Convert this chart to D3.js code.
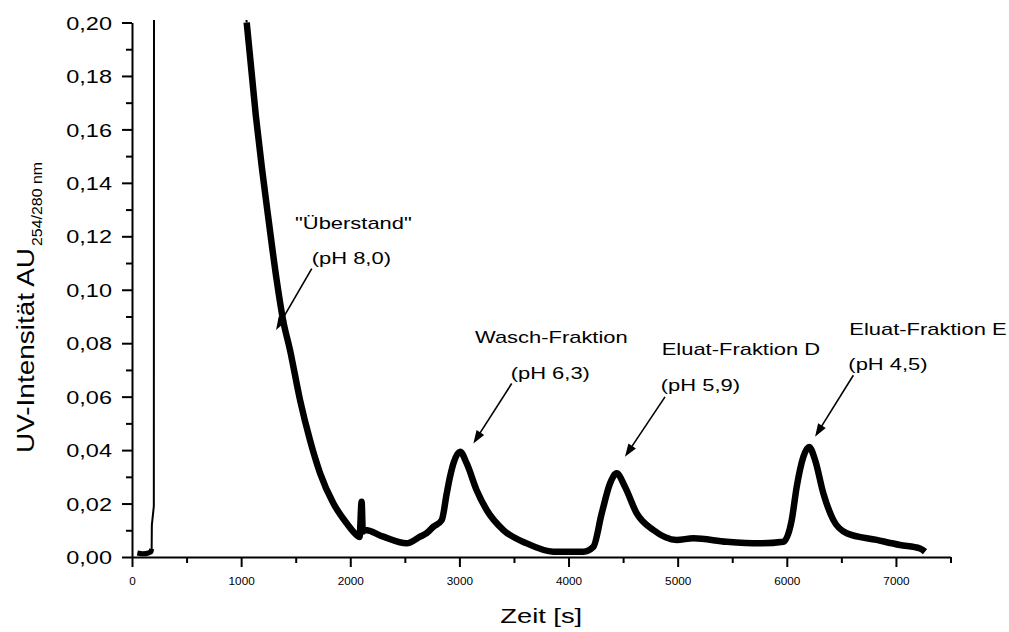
<!DOCTYPE html>
<html><head><meta charset="utf-8">
<script src="https://cdnjs.cloudflare.com/ajax/libs/d3/7.8.5/d3.min.js"></script>
<style>
body{margin:0;background:#fff}
svg{display:block}
text{font-family:"Liberation Sans",Arial,sans-serif;fill:#000}
</style>
</head><body>
<svg id="c" width="1009" height="632"></svg>
<script>
// ---- data ----
const times = [49,100,150,175,180,182,200,202,1000,1051,1135,1192,1252,1326,1385,1448,1540,1631,
  1723,1845,1967,2059,2085,2104,2115,2135,2303,2517,2639,2700,2761,2838,2884,2914,2945,3006,3067,3158,
  3250,3403,3617,3861,4136,4227,4304,4380,4441,4517,4625,4777,4991,5143,5449,5755,5968,6045,6091,6152,
  6204,6259,6335,6427,6549,6824,7037,7221,7266];
const values = [0.0015,0.0012,0.0015,0.002,0.003,0.012,0.019,0.25,0.225,0.2,0.165,0.145,0.126,0.1035,0.0885,0.0774,0.0587,0.0437,
  0.0314,0.0201,0.0126,0.0082,0.0075,0.0207,0.0095,0.0101,0.0076,0.0051,0.0076,0.0089,0.0113,0.0138,0.0238,0.030,0.035,0.0394,0.035,0.025,
  0.0176,0.0101,0.0051,0.002,0.002,0.0038,0.0163,0.0275,0.0313,0.0263,0.0163,0.0101,0.0064,0.007,0.0057,0.0051,0.0057,0.0138,0.0263,0.0375,
  0.0412,0.0363,0.0238,0.0138,0.0089,0.0064,0.0045,0.0032,0.002];

const xTicks = [0,1000,2000,3000,4000,5000,6000,7000];
const xTickLabels = ["0","1000","2000","3000","4000","5000","6000","7000"];
const xMinorTicks = [500,1500,2500,3500,4500,5500,6500,7500];
const yTicks = [0,0.02,0.04,0.06,0.08,0.10,0.12,0.14,0.16,0.18,0.20];
const yTickLabels = ["0,00","0,02","0,04","0,06","0,08","0,10","0,12","0,14","0,16","0,18","0,20"];
const yMinorTicks = [0.01,0.03,0.05,0.07,0.09,0.11,0.13,0.15,0.17,0.19];

const xTitle = "Zeit [s]";
const yTitle = "UV-Intensität AU";
const yTitleSub = "254/280 nm";

// annotations: label lines, arrow tail/tip in data units
const annLine1 = ['"Überstand"','Wasch-Fraktion','Eluat-Fraktion D','Eluat-Fraktion E'];
const annLine2 = ['(pH 8,0)','(pH 6,3)','(pH 5,9)','(pH 4,5)'];
const annLine1T = [1494,3143,4854,6573];
const annLine1V = [0.1226,0.0799,0.0755,0.0830];
const annLine2T = [1647,3470,4845,6564];
const annLine2V = [0.1098,0.0665,0.0622,0.0699];
const arrowTailT = [1647,3479,4884,6610];
const arrowTailV = [0.1079,0.0649,0.0599,0.0680];
const arrowTipT = [1320,3128,4517,6259];
const arrowTipV = [0.0849,0.0425,0.0375,0.0450];

// ---- drawing ----
const svg = d3.select("#c");
const x = d3.scaleLinear().domain([0,7500]).range([132,950.5]);
const y = d3.scaleLinear().domain([0,0.2]).range([557,22.5]);

function stretch(sel, k){
  sel.each(function(){
    const L = this.getComputedTextLength();
    this.setAttribute("textLength", L*k);
    this.setAttribute("lengthAdjust","spacingAndGlyphs");
  });
}

svg.append("defs").append("clipPath").attr("id","clip")
  .append("rect").attr("x",132).attr("y",20).attr("width",820).attr("height",537);

const pts = times.map((t,i)=>({t, v: values[i]}));
const plot = svg.append("g").attr("clip-path","url(#clip)");
plot.append("path").datum(pts.filter(d=>d.t>=180 && d.t<=1051))
  .attr("d", d3.line().x(d=>x(d.t)).y(d=>y(d.v)))
  .attr("fill","none").attr("stroke","#000").attr("stroke-width",2);
const thick = d3.line().x(d=>x(d.t)).y(d=>y(d.v)).curve(d3.curveMonotoneX);
plot.append("path").datum(pts.filter(d=>d.t<=180))
  .attr("d", thick).attr("fill","none").attr("stroke","#000").attr("stroke-width",5)
  .attr("stroke-linejoin","round");
plot.append("path").datum(pts.filter(d=>d.t>=1051))
  .attr("d", thick).attr("fill","none").attr("stroke","#000").attr("stroke-width",6.5)
  .attr("stroke-linejoin","round");

// axes
const gx = svg.append("g").attr("transform",`translate(0,${y(0)})`)
  .call(d3.axisBottom(x).tickValues(xTicks).tickSize(10).tickSizeOuter(0)
    .tickFormat((d,i)=>xTickLabels[i]));
const gxm = svg.append("g").attr("transform",`translate(0,${y(0)})`)
  .call(d3.axisBottom(x).tickValues(xMinorTicks).tickSize(6).tickSizeOuter(0).tickFormat(""));
gxm.select(".domain").remove();
const gy = svg.append("g").attr("transform",`translate(${x(0)},0)`)
  .call(d3.axisLeft(y).tickValues(yTicks).tickSize(10).tickSizeOuter(0).tickPadding(10)
    .tickFormat((d,i)=>yTickLabels[i]));
const gym = svg.append("g").attr("transform",`translate(${x(0)},0)`)
  .call(d3.axisLeft(y).tickValues(yMinorTicks).tickSize(6).tickSizeOuter(0).tickFormat(""));
gym.select(".domain").remove();

svg.selectAll(".domain").attr("stroke","#000").attr("stroke-width",2);
svg.selectAll(".tick line").attr("stroke","#000").attr("stroke-width",2);

gx.selectAll("text").attr("y",28).attr("dy",0).style("font-size","10.5px");
stretch(gx.selectAll("text"),1.12);
gy.selectAll("text").attr("dy","0.36em").style("font-size","18.5px");
stretch(gy.selectAll("text"),1.27);

// titles
const xt = svg.append("text").attr("x",(x.range()[0]+x.range()[1])/2).attr("y",623)
  .attr("text-anchor","middle").style("font-size","21px").text(xTitle);
stretch(xt,1.3);

const yt = svg.append("g").attr("transform","translate(33.5,453) rotate(-90) scale(1,1.22)")
  .append("text").attr("x",0).attr("y",0).style("font-size","20px").text(yTitle);
yt.attr("textLength",205).attr("lengthAdjust","spacingAndGlyphs");
const yts = svg.append("g").attr("transform","translate(41.5,246) rotate(-90) scale(1,1.22)")
  .append("text").attr("x",0).attr("y",0).style("font-size","11.5px").text(yTitleSub);
yts.attr("textLength",84).attr("lengthAdjust","spacingAndGlyphs");

// annotations
const ann = svg.append("g");
annLine1.forEach((s,i)=>{
  const t1 = ann.append("text").attr("x",x(annLine1T[i])).attr("y",y(annLine1V[i]))
    .style("font-size","17px").text(s);
  stretch(t1,1.29);
  const t2 = ann.append("text").attr("x",x(annLine2T[i])).attr("y",y(annLine2V[i]))
    .style("font-size","17px").text(annLine2[i]);
  stretch(t2,1.29);
  const x0=x(arrowTailT[i]), y0=y(arrowTailV[i]), x1=x(arrowTipT[i]), y1=y(arrowTipV[i]);
  const dx=x1-x0, dy=y1-y0, len=Math.hypot(dx,dy), ux=dx/len, uy=dy/len;
  const hl=13, hw=4.5;
  const bx=x1-ux*hl, by=y1-uy*hl;
  ann.append("line").attr("x1",x0).attr("y1",y0).attr("x2",bx+ux*2).attr("y2",by+uy*2)
    .attr("stroke","#000").attr("stroke-width",1.6);
  ann.append("path")
    .attr("d",`M${x1},${y1}L${bx-uy*hw},${by+ux*hw}L${bx+uy*hw},${by-ux*hw}Z`)
    .attr("fill","#000");
});
</script>
</body></html>
